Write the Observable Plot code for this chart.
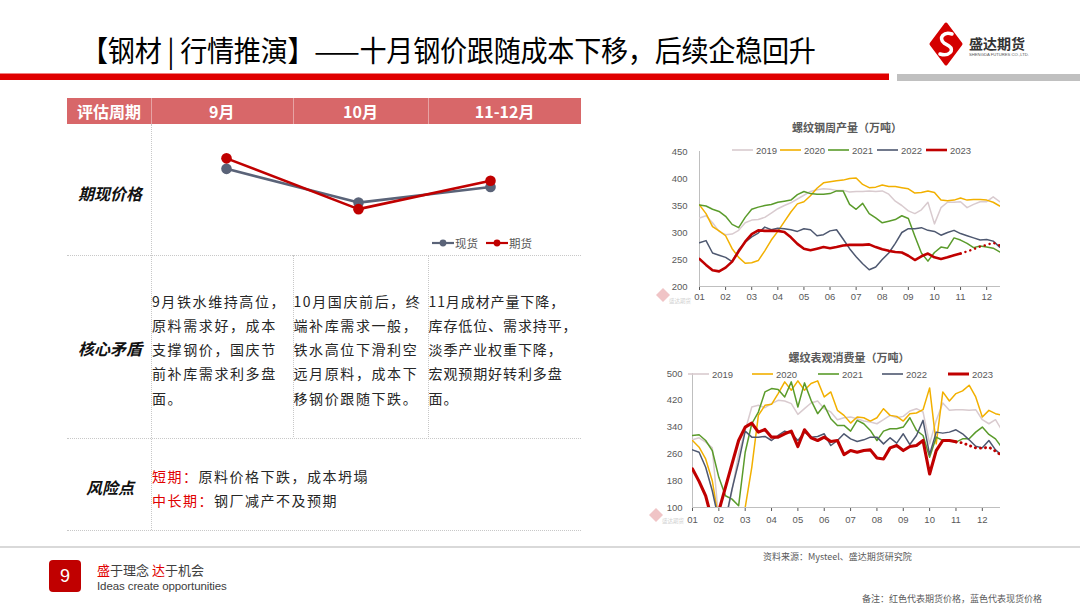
<!DOCTYPE html>
<html>
<head>
<meta charset="utf-8">
<script src="https://cdn.jsdelivr.net/npm/d3@7"></script>
<script src="https://cdn.jsdelivr.net/npm/@observablehq/plot@0.6"></script>
<style>
html,body{margin:0;padding:0;background:#fff;overflow:hidden;}
#page{position:relative;width:1080px;height:608px;overflow:hidden;background:#fff;font-family:"Noto Sans CJK SC","Noto Sans",sans-serif;color:#262626;}
#page .t{position:absolute;white-space:pre;}
</style>
</head>
<body>
<div id="page"></div>
<script>
// ================= DATA =================
const slideTitle = "【钢材 | 行情推演】——十月钢价跟随成本下移，后续企稳回升";
const headerLabel = "评估周期";
const periods = ["9月", "10月", "11-12月"];
const priceSeries = ["现货", "期货"];
const spotPrice = [3820, 3598, 3701];
const futuresPrice = [3889, 3555, 3742];
const rowLabels = ["期现价格", "核心矛盾", "风险点"];
const coreText = [
  "9月铁水维持高位，\n原料需求好，成本\n支撑钢价，国庆节\n前补库需求利多盘\n面。",
  "10月国庆前后，终\n端补库需求一般，\n铁水高位下滑利空\n远月原料，成本下\n移钢价跟随下跌。",
  "11月成材产量下降，\n库存低位、需求持平，\n淡季产业权重下降，\n宏观预期好转利多盘\n面。"
];
const riskLabels = ["短期：", "中长期："];
const riskText = ["原料价格下跌，成本坍塌", "钢厂减产不及预期"];

const years = ["2019", "2020", "2021", "2022", "2023"];
const monthLabels = ["01","02","03","04","05","06","07","08","09","10","11","12"];
const monthTicks = [1,2,3,4,5,6,7,8,9,10,11,12];

// 螺纹钢周产量（万吨） — values every quarter month from 01
const prodTitle = "螺纹钢周产量（万吨）";
const prodTicks = [200, 250, 300, 350, 400, 450];
const prod2019 = [327,331,318,302,296,297,304,318,323,324,328,336,344,350,355,362,369,376,379,381,380,378,378,375,376,376,377,376,377,371,358,350,340,335,342,356,316,346,356,356,357,346,352,357,357,366,357];
const prod2020 = [351,335,311,303,294,270,254,243,244,248,266,286,302,320,338,353,357,368,382,392,394,396,397,400,401,389,383,384,388,385,385,383,381,373,374,377,374,360,359,360,364,360,361,361,360,356,349];
const prod2021 = [351,349,343,339,330,315,309,328,343,347,350,352,356,358,360,370,376,372,371,371,372,377,377,352,343,354,335,327,318,321,324,331,326,293,262,247,263,273,271,290,286,280,272,275,273,271,264];
const prod2022 = [281,285,262,258,254,246,268,282,292,299,310,305,308,307,305,302,307,305,294,296,303,305,288,270,255,242,231,236,250,262,280,300,307,307,309,304,302,295,300,304,298,294,290,286,287,284,273];
const prod2023 = [251,240,230,228,235,246,265,283,297,304,303,303,303,301,291,279,270,267,270,273,271,273,276,277,277,277,278,273,269,266,264,263,257,249,256,261,254,251,254,258,261];
const prod2023Forecast = [261,265,269,274,277,281,276];

// 螺纹表观消费量（万吨）
const consTitle = "螺纹表观消费量（万吨）";
const consTicks = [100, 180, 260, 340, 420, 500];
const cons2019 = [302,308,295,278,60,60,150,260,330,400,405,398,410,420,418,410,378,395,412,418,395,385,362,368,370,365,358,355,350,362,375,368,372,388,395,385,290,360,412,390,392,392,390,392,362,350,362,330];
const cons2020 = [300,280,245,180,60,60,60,60,100,220,375,405,408,440,475,450,478,450,470,478,430,445,390,375,352,370,368,358,368,395,375,372,358,380,382,392,457,290,445,418,440,448,465,430,370,390,380,375];
const cons2021 = [315,317,300,270,190,135,125,105,265,350,385,445,455,452,430,475,400,472,420,380,405,365,345,345,328,360,350,330,300,328,335,335,340,368,330,315,250,310,300,300,295,305,305,325,340,318,305,278];
const cons2022 = [272,265,220,150,60,60,155,235,328,310,310,312,300,315,328,322,300,325,310,312,320,285,300,320,305,297,302,310,310,290,308,292,320,288,315,360,258,325,322,325,332,320,302,283,278,300,272,255];
const cons2023 = [215,178,135,60,90,160,230,300,340,352,325,333,310,310,320,328,282,332,308,300,310,297,300,258,270,265,270,272,248,245,278,285,270,282,285,300,200,270,300,300,296];
const cons2023Forecast = [296,293,285,278,277,280,268,254];

const sourceNote = "资料来源：Mysteel、盛达期货研究院";
const remarkNote = "备注：红色代表期货价格，蓝色代表现货价格";
const brandName = "盛达期货";

// ================= STYLE =================
const yearColors = ["#d9cbcf", "#f2b000", "#5a9b2b", "#4e5870", "#c00000"];
const spotColor = "#5a6378", futColor = "#c00000";
const page = document.getElementById("page");

function box(css) { const d = document.createElement("div"); d.style.cssText = "position:absolute;" + css; page.appendChild(d); return d; }
function text(str, css) { const d = document.createElement("div"); d.className = "t"; d.textContent = str; d.style.cssText += css; page.appendChild(d); return d; }
function place(el, left, top) { el.style.position = "absolute"; el.style.left = left + "px"; el.style.top = top + "px"; page.appendChild(el); return el; }

// ---------- header ----------
text(slideTitle, "left:81px;top:31px;font-size:29px;font-weight:400;color:#000;line-height:36px;transform:scaleX(0.935);transform-origin:0 50%;letter-spacing:-0.3px;");
box("left:0;top:73px;width:889px;height:1px;background:#f08080;");
box("left:0;top:74px;width:889px;height:6px;background:#e00000;");
box("left:897px;top:74px;width:183px;height:7px;background:#c0c0c0;");
const logo = document.createElementNS("http://www.w3.org/2000/svg", "svg");
logo.setAttribute("width", "130"); logo.setAttribute("height", "50");
logo.innerHTML = `<polygon points="21,4 36,24 21,44 6,24" fill="#d40000" stroke="#d40000" stroke-width="3" stroke-linejoin="round"/>
<path d="M27,14 C19,11 13,18 19,23 L24,26 C30,30 24,37 15,34" fill="none" stroke="#fff" stroke-width="3.5" stroke-linecap="round"/>
<text x="44" y="29" font-size="14" font-weight="700" fill="#333" font-family="Noto Sans CJK SC">${brandName}</text>
<text x="44" y="36" font-size="4.2" fill="#555" font-family="Liberation Sans">SHENGDA FUTURES CO.,LTD.</text>`;
place(logo, 925, 20);

// ---------- table ----------
box("left:67px;top:98px;width:514px;height:26px;background:#d86769;");
[150.7, 292.8, 428.2].forEach(x => box(`left:${x}px;top:98px;width:1px;height:26px;background:#e7a3a4;`));
text(headerLabel, "left:109px;top:111px;transform:translate(-50%,-50%);font-size:16px;font-weight:700;color:#fff;");
const colCenters = [221.7, 360.5, 504.6];
periods.forEach((p, i) => text(p, `left:${colCenters[i]}px;top:111px;transform:translate(-50%,-50%);font-size:16px;font-weight:700;color:#fff;`));
const dotted = "#c8c8c8";
[255, 437.5, 530].forEach(y => box(`left:67px;top:${y}px;width:514px;height:0;border-top:1px dotted ${dotted};`));
box(`left:150.7px;top:124px;width:0;height:406px;border-left:1px dotted ${dotted};`);
[292.8, 428.2].forEach(x => box(`left:${x}px;top:255px;width:0;height:182px;border-left:1px dotted ${dotted};`));
const rowY = [193, 348, 487];
rowLabels.forEach((r, i) => text(r, `left:110px;top:${rowY[i]}px;transform:translate(-50%,-50%);font-size:16px;font-weight:700;font-style:italic;color:#111;`));
const colX = [152, 293.5, 428.5];
const spacing = [1.6, 1.6, 0.9];
coreText.forEach((s, i) => text(s, `left:${colX[i]}px;top:288.5px;font-size:14px;line-height:24.3px;letter-spacing:${spacing[i]}px;color:#262626;`));
riskLabels.forEach((lab, i) => {
  const d = text("", `left:152px;top:${464 + i * 24.4}px;font-size:14px;line-height:24px;letter-spacing:1.5px;color:#262626;`);
  const s1 = document.createElement("span"); s1.textContent = lab; s1.style.color = "#e00000";
  const s2 = document.createElement("span"); s2.textContent = riskText[i];
  d.appendChild(s1); d.appendChild(s2);
});

// mini price chart
const spotRows = periods.map((p, i) => ({p, v: spotPrice[i], s: priceSeries[0]}));
const futRows = periods.map((p, i) => ({p, v: futuresPrice[i], s: priceSeries[1]}));
const mini = Plot.plot({
  width: 430, height: 131, marginLeft: 75, marginRight: 90.5, marginTop: 17, marginBottom: 38,
  x: {type: "point", domain: periods, padding: 0, axis: null},
  y: {domain: [3500, 4000], axis: null},
  style: {background: "transparent", overflow: "visible"},
  marks: [
    Plot.line(spotRows, {x: "p", y: "v", stroke: spotColor, strokeWidth: 2.6}),
    Plot.dot(spotRows, {x: "p", y: "v", fill: spotColor, r: 5.3}),
    Plot.line(futRows, {x: "p", y: "v", stroke: futColor, strokeWidth: 2.6}),
    Plot.dot(futRows, {x: "p", y: "v", fill: futColor, r: 5.3})
  ]
});
place(mini, 151, 124);
// legends
function lineLegend(x, y, color, label, w, opts = {}) {
  const s = document.createElementNS("http://www.w3.org/2000/svg", "svg");
  s.setAttribute("width", w + 2); s.setAttribute("height", 8);
  let inner = `<line x1="1" y1="4" x2="${w + 1}" y2="4" stroke="${color}" stroke-width="${opts.sw || 1.6}"/>`;
  if (opts.dot) inner += `<circle cx="${w / 2 + 1}" cy="4" r="3.4" fill="${color}"/>`;
  s.innerHTML = inner;
  place(s, x - 1, y - 4);
  text(label, `left:${x + w + (opts.gap || 3)}px;top:${y}px;transform:translateY(-50%);font-size:${opts.fs || 10}px;color:#595959;font-family:${opts.ff || "'Liberation Sans',sans-serif"};`);
}
lineLegend(432, 243, spotColor, priceSeries[0], 22, {dot: true, sw: 2.2, fs: 11.5, gap: 1, ff: "'Noto Sans CJK SC'"});
lineLegend(486, 243, futColor, priceSeries[1], 22, {dot: true, sw: 2.2, fs: 11.5, gap: 1, ff: "'Noto Sans CJK SC'"});

// ---------- year charts ----------
const rows = (vals, start) => vals.map((v, j) => ({x: 1 + (start + j) / 4, y: v}));
function yearChart(cfg) {
  const marks = [
    Plot.ruleX([1], {stroke: "#bfbfbf"}),
    Plot.ruleY([cfg.yDomain[0]], {stroke: "#bfbfbf"})
  ];
  cfg.series.forEach((vals, k) => {
    marks.push(Plot.line(rows(vals, 0), {x: "x", y: "y", stroke: yearColors[k], strokeWidth: k === 4 ? cfg.w23 : 1.5, clip: true}));
  });
  marks.push(Plot.line(rows(cfg.forecast, cfg.series[4].length - 1), {x: "x", y: "y", stroke: yearColors[4], strokeWidth: cfg.w23 - 0.2, strokeDasharray: "0.1 5", strokeLinecap: "round", clip: true}));
  return Plot.plot({
    width: 345, height: cfg.height, marginLeft: cfg.ml, marginRight: 5, marginTop: cfg.mt, marginBottom: cfg.mb,
    x: {domain: cfg.xDomain, ticks: monthTicks, tickFormat: d => monthLabels[monthTicks.indexOf(d)], tickSize: 4, tickPadding: cfg.xpad, label: null},
    y: {domain: cfg.yDomain, ticks: cfg.yTicks, tickSize: 0, tickPadding: cfg.ypad, label: null},
    style: {background: "transparent", overflow: "visible", fontSize: "9.5px", fontFamily: "'Liberation Sans', Arial, sans-serif", color: "#595959"},
    marks
  });
}
const chart1 = yearChart({
  series: [prod2019, prod2020, prod2021, prod2022, prod2023], forecast: prod2023Forecast,
  xDomain: [1, 12.53], yDomain: [200, 450], yTicks: prodTicks, height: 165, ml: 39, mt: 11, mb: 19, xpad: 3, ypad: 12, w23: 2.6
});
place(chart1, 660, 140);
const chart2 = yearChart({
  series: [cons2019, cons2020, cons2021, cons2022, cons2023], forecast: cons2023Forecast,
  xDomain: [1, 12.69], yDomain: [100, 500], yTicks: consTicks, height: 167, ml: 32, mt: 13, mb: 20, xpad: 5, ypad: 10, w23: 3.1
});
place(chart2, 660, 360);

text(prodTitle, "left:847px;top:127px;transform:translate(-50%,-50%);font-size:11px;font-weight:700;color:#595959;");
text(consTitle, "left:849px;top:357px;transform:translate(-50%,-50%);font-size:11px;font-weight:700;color:#595959;");
const leg1 = [732, 780, 828, 877, 926];
years.forEach((y, k) => lineLegend(leg1[k], 150, yearColors[k], y, 21, {sw: k === 4 ? 2.6 : 1.6, fs: 9.5}));
const leg2 = [688, 752, 818, 882, 948];
years.forEach((y, k) => lineLegend(leg2[k], 373.5, yearColors[k], y, 21, {sw: k === 4 ? 3 : 1.6, fs: 9.5}));

// watermarks (faint brand mark under each chart)
function watermark(x, y) {
  const s = document.createElementNS("http://www.w3.org/2000/svg", "svg");
  s.setAttribute("width", "40"); s.setAttribute("height", "20");
  s.innerHTML = `<polygon points="8,2 15,9 8,16 1,9" fill="#f0c4c6"/><text x="14" y="17" font-size="5.5" fill="#cfcfcf" font-family="Noto Sans CJK SC">${brandName}</text>`;
  place(s, x, y);
}
watermark(655, 286);
watermark(648, 506);

// ---------- footer ----------
box("left:0;top:546px;width:1080px;height:2px;background:#d9d9d9;");
box("left:49px;top:560px;width:32px;height:32px;background:#c00000;border-radius:4px;");
text("9", "left:65px;top:576px;transform:translate(-50%,-50%);font-size:18px;color:#fff;font-family:'Liberation Sans',sans-serif;");
const slogan = text("", "left:97px;top:563px;font-size:13px;line-height:14px;color:#404040;");
slogan.innerHTML = '<span style="color:#e00000">盛</span>于理念 <span style="color:#e00000">达</span>于机会';
text("Ideas create opportunities", "left:97px;top:580px;font-size:11.5px;line-height:12px;color:#404040;letter-spacing:-0.1px;font-family:'Liberation Sans',sans-serif;");
text(sourceNote, "left:763px;top:556px;transform:translateY(-50%);font-size:9px;color:#595959;");
text(remarkNote, "left:862px;top:598px;transform:translateY(-50%);font-size:9px;color:#595959;");
</script>
</body>
</html>
